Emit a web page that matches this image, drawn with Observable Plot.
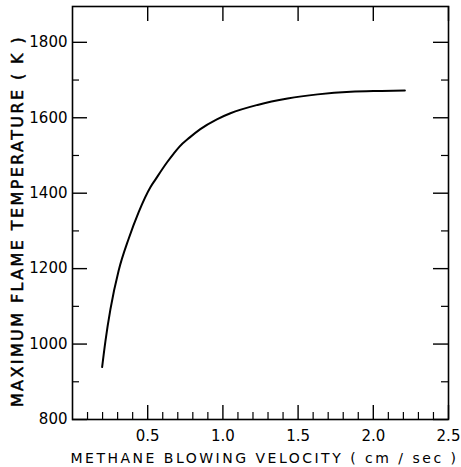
<!DOCTYPE html>
<html>
<head>
<meta charset="utf-8">
<script src="https://cdn.jsdelivr.net/npm/d3@7"></script>
<script src="https://cdn.jsdelivr.net/npm/@observablehq/plot@0.6"></script>
<style>
  html, body { margin: 0; padding: 0; background: #fff; }
</style>
</head>
<body>
<div id="chart"></div>
<script>
// Data
const velocity = [0.197, 0.219, 0.252, 0.307, 0.374, 0.440, 0.518, 0.551, 0.629, 0.673, 0.71, 0.78, 0.85, 0.96, 1.05, 1.23, 1.43, 1.63, 1.85, 2.05, 2.21];
const temperature = [939, 1008, 1092, 1195, 1280, 1350, 1416, 1436, 1482, 1505, 1523, 1548, 1570, 1596, 1612, 1634, 1651, 1662, 1669, 1671, 1672];

const xMajor = [0.5, 1.0, 1.5, 2.0, 2.5];
const xMinor = [0.1, 0.2, 0.3, 0.4, 0.6, 0.7, 0.8, 0.9, 1.1, 1.2, 1.3, 1.4, 1.6, 1.7, 1.8, 1.9, 2.1, 2.2, 2.3, 2.4];
const yMajor = [800, 1000, 1200, 1400, 1600, 1800];
const yMinor = [900, 1100, 1300, 1500, 1700];
const xLabels = ["0.5", "1.0", "1.5", "2.0", "2.5"];
const yLabels = ["800", "1000", "1200", "1400", "1600", "1800"];
const xTitle = "METHANE BLOWING VELOCITY ( cm / sec )";
const yTitle = "MAXIMUM FLAME TEMPERATURE ( K )";

const data = velocity.map((v, i) => ({v, t: temperature[i]}));

const W = 461, H = 467;
const mL = 72, mR = 13, mT = 6, mB = 48;
const iw = W - mL - mR, ih = H - mT - mB;
const font = "'DejaVu Sans', 'Liberation Sans', sans-serif";

const chart = Plot.plot({
  width: W,
  height: H,
  marginLeft: mL,
  marginRight: mR,
  marginTop: mT,
  marginBottom: mB,
  style: {fontFamily: font, background: "#fff", color: "#000"},
  x: {domain: [0, 2.5], axis: null},
  y: {domain: [800, 1895], axis: null},
  marks: [
    Plot.frame({stroke: "#000", strokeWidth: 1.6}),
    // left ticks (inward)
    Plot.tickY(yMajor, {y: d => d, insetRight: iw - 15, stroke: "#000", strokeWidth: 1.4}),
    Plot.tickY(yMinor, {y: d => d, insetRight: iw - 7, stroke: "#000", strokeWidth: 1.2}),
    // right ticks (inward)
    Plot.tickY(yMajor, {y: d => d, insetLeft: iw - 15, stroke: "#000", strokeWidth: 1.4}),
    Plot.tickY(yMinor, {y: d => d, insetLeft: iw - 7, stroke: "#000", strokeWidth: 1.2}),
    // bottom ticks (inward)
    Plot.tickX(xMajor, {x: d => d, insetTop: ih - 14, stroke: "#000", strokeWidth: 1.4}),
    Plot.tickX(xMinor, {x: d => d, insetTop: ih - 7, stroke: "#000", strokeWidth: 1.2}),
    // top ticks (inward)
    Plot.tickX(xMajor, {x: d => d, insetBottom: ih - 15, stroke: "#000", strokeWidth: 1.4}),
    // tick labels
    Plot.text(yMajor, {y: d => d, frameAnchor: "left", dx: -5, textAnchor: "end", text: (d, i) => yLabels[i], fontSize: 15, fill: "#000"}),
    Plot.text(xMajor, {x: d => d, frameAnchor: "bottom", dy: 17, lineAnchor: "middle", text: (d, i) => xLabels[i], fontSize: 15, fill: "#000"}),
    // axis titles
    Plot.text([yTitle], {frameAnchor: "left", dx: -55, dy: 8, rotate: -90, textAnchor: "middle", lineAnchor: "middle", text: d => d, fontSize: 16, fill: "#000", stroke: "#000", strokeWidth: 0.5}),
    Plot.text([xTitle], {frameAnchor: "bottom", dx: 4, dy: 39, textAnchor: "middle", lineAnchor: "middle", text: d => d, fontSize: 14, fill: "#000"}),
    // curve
    Plot.line(data, {x: "v", y: "t", curve: "monotone-x", stroke: "#000", strokeWidth: 2})
  ]
});
d3.select(chart).selectAll("text").each(function() {
  const t = d3.select(this).text();
  if (t === xTitle) d3.select(this).attr("letter-spacing", "2.5px");
  if (t === yTitle) d3.select(this).attr("letter-spacing", "2.4px");
});
document.getElementById("chart").appendChild(chart);
</script>
</body>
</html>
